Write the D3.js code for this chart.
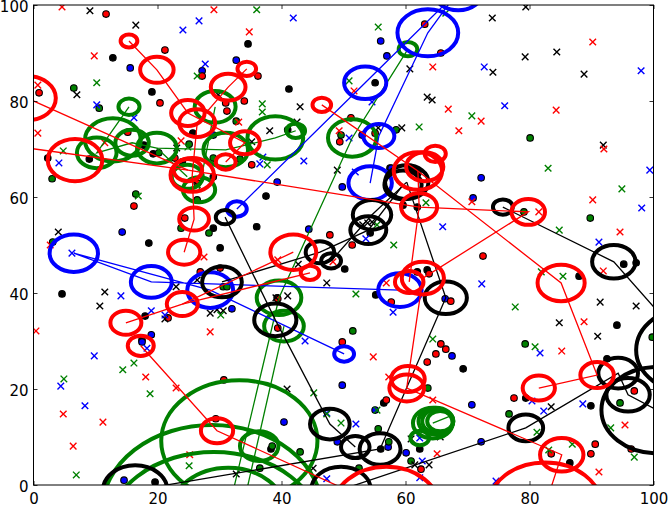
<!DOCTYPE html>
<html><head><meta charset="utf-8">
<style>html,body{margin:0;padding:0;background:#fff}svg{display:block}text{font-family:"DejaVu Sans";font-size:15px;fill:#000}</style>
<script src="https://cdnjs.cloudflare.com/ajax/libs/d3/7.8.5/d3.min.js"></script>
</head><body><div id="c"></div>
<script>
const tickValues=[0,20,40,60,80,100];
const dotsBlack=[[12.8,89],[19.1,81.9],[9,67.9],[2.3,68.1],[17.8,70.8],[19.3,69],[34.6,91.9],[41.2,82.5],[55.1,83.8],[41,74],[29,64.2],[29,53.5],[18.6,50.4],[30.1,49.4],[4.6,39.8],[18,35.2],[37.5,60.2],[36,53.8],[50.2,45],[63.5,44.8],[61.9,44.4],[55.2,39.6],[39.3,39],[95.2,46],[97.2,46.3],[94.1,33.3],[88,43.5],[19.6,.6],[62.3,7.5],[38.3,7.5],[56,7.5],[56.5,17.1],[69.3,24.2],[79.4,18.1],[89.9,16.5],[86.5,4.6],[92.5,26.3],[62,65],[59.6,58.3],[61.9,57.9],[57.5,66],[24,67.3],[25.7,73.3],[17.5,30.2],[54.3,52.5],[60.7,66.2],[61.4,65.6]];
const dotsBlue=[[15.6,86.9],[27.2,86.3],[29,72.9],[32.7,88.5],[56,92.5],[57,89.4],[53,72.9],[57.7,66],[14.3,52.7],[19,31.3],[39.3,63.1],[49.8,62.1],[44.4,53.3],[32,36.7],[66.4,38.8],[72.2,64],[70.9,59.8],[14.6,1],[17.5,29.8],[49.8,20.8],[40.4,13.1],[55.1,15.6],[49,9],[60.1,6.7],[57.2,7.9],[67.5,26.9],[70.7,16.7],[72.2,9]];
const dotsGreen=[[6.5,82.7],[10.6,78.5],[20.2,69.2],[25.1,71],[29,68.1],[32.7,75.8],[49.6,72.9],[58.5,74],[33.3,67.9],[80.1,72.3],[3,63.8],[16.5,60.6],[26.4,59.4],[23.8,53.5],[28.3,52.5],[3.1,50.6],[51.5,32.1],[30.6,41.3],[31.2,41.3],[79.1,56.9],[89.8,55.6],[63.6,20.2],[55.6,11.7],[43,6.9],[57.3,9],[38.5,8.1],[60.9,5],[36.5,3.5],[52.5,3.5],[79.3,29.4],[76.7,14.8],[94.6,17.1],[99.8,30.8]];
const dotsRed=[[11.7,98.1],[21.2,90.6],[27.2,85.2],[.9,81.7],[20.4,79.6],[31,79.6],[31.2,77.9],[15.2,73.5],[36.2,85.2],[34,80],[63.1,96],[65.7,90],[51.2,76.5],[49.4,71.5],[55.1,73.3],[35.2,66.7],[16.2,58.1],[24.4,55.6],[26.4,62.9],[30.1,45.2],[26.9,44.4],[21.7,34.8],[22.8,68.1],[47.8,52.1],[51.4,50],[39.4,38.8],[63.8,44],[39.4,32.7],[57.7,38.1],[72.5,47.7],[67.3,38.3],[30.7,21.9],[29.4,13.8],[49.8,29.8],[63.5,25.6],[64.9,27.3],[65.7,29.4],[66.5,28.3],[56.9,17.7],[62.5,3.3],[77.5,18.1],[96.9,19.6],[90.6,8.5],[89.9,6.5],[83.5,6.5],[96.4,7.5]];
const crossBlack=[[9.1,98.8],[16.5,95.8],[7,81.3],[29.8,81.3],[23.1,70.2],[60.7,86.7],[63.5,80.8],[64.3,80.2],[43,78.8],[38.1,73.8],[42.5,75.6],[59.4,74.4],[35.2,71.5],[49,65.6],[55.6,74.4],[74,97.3],[79.4,99.6],[79.3,89.2],[84.4,90.2],[74.1,86],[88.8,85.6],[91.9,70.8],[4,52.7],[11.5,40.2],[10.7,37.3],[23,41.3],[26.4,42.7],[28.5,35.8],[29.6,36.5],[30.6,36.3],[21.2,34.6],[41,39.4],[47.3,42.1],[39.1,39],[42.7,46],[91.4,38.1],[97.2,37.3],[84.8,33.8],[91,31],[40.9,20],[45.1,3.5],[32.7,2.3],[60.9,9.6],[61.5,4.2],[63.8,4.2],[65.6,10],[83.5,16.3],[53.1,54.2],[53.9,54.6],[54.6,54.8],[26.4,62.5]];
const crossRed=[[4.6,99.6],[9.8,89.4],[.7,83.3],[.7,73.3],[11.5,71.3],[29.1,99],[23.8,71.7],[34.8,94.4],[64.4,87.1],[51.7,82.1],[66.9,78.3],[33.1,75.6],[49.3,73.8],[90.2,92.3],[68.6,73.8],[72.2,75.8],[84.3,78.1],[92,70],[2.7,50],[.4,32.1],[27.5,47.5],[28.5,31.9],[56.9,42.1],[48.3,46.5],[39.4,46.9],[90.2,59.4],[70.7,59],[81.5,56.9],[94.6,52.7],[91.9,44.6],[88.8,34],[4.8,14.8],[11.2,13.1],[6.4,8.1],[18.1,22.5],[23,20.2],[25.2,6.3],[54.8,26.7],[57.3,22.5],[64.4,17.7],[65.1,6.5],[85.2,27.9],[95.4,12.5],[91.2,2.7]];
const crossBlue=[[26.7,96.7],[24.1,94.8],[27.7,87.7],[10.2,79.2],[16.2,76.5],[4.1,67.1],[41.9,97.3],[43.6,67.5],[50.9,72.3],[54.6,79.8],[36.5,66.9],[37,68.3],[72.7,87.1],[98,86.3],[76,79],[99.4,65.6],[6.2,48.3],[14.1,39.4],[19,36.3],[21.2,35.4],[66,53.8],[58,36],[53.6,51.3],[51.9,65.2],[98.1,57.7],[91.2,50.6],[72.3,41.9],[9.8,26.9],[4.4,20.6],[8.3,16.5],[18.3,28.5],[43.8,30],[52,12.7],[47.3,1.3],[47.3,15],[62.7,5],[62.3,1.5],[62.3,9.8],[81.7,27.5],[80.4,17.5],[82.3,15.4],[88.6,16.9],[74.6,.8]];
const crossGreen=[[10.2,83.8],[26.4,85.2],[4.8,69.6],[24.9,70.4],[36,99],[55.6,95.4],[66.5,98.3],[36.9,79.4],[36.9,77.7],[62.2,74.6],[50.9,84.2],[37.7,66.7],[70.7,76.9],[83,66],[16.9,60.2],[30.2,35.4],[52,39.8],[58.1,50],[55.4,54.2],[63.3,58.8],[94.9,61.7],[84.8,53.1],[77.7,37.1],[85.4,43.5],[81.9,44.4],[4.9,22.1],[16.2,25.4],[14.4,24],[18.8,19],[6.9,2.1],[25.1,4],[64.4,30.4],[45.2,19.2],[47.3,14.8],[49.6,12.9],[55.4,15.6],[80.9,28.8],[81.2,11],[83.1,7.3],[86.9,8.5],[93.1,11.9],[96.9,5.8]];
const ringsGreen=[[15.4,78.8,1.7],[12.8,71.9,4.5],[10.2,69.2,3.2],[15.9,71.3,2.7],[19.9,70.2,3.2],[29.3,78.8,3.3],[31,69.8,3.6],[39,72.3,4.5],[42.3,73.8,1.5],[51.4,72.3,3.9],[60.4,90.8,1.5],[26.7,61.5,2.6],[24.8,64.2,2.5],[39.6,39,3.6],[40.4,33.1,3.2],[36.4,8.1,3.1],[33.2,9.2,12.6],[28.8,-5.2,17.7],[29.1,-10.6,17.5],[31.4,-5.6,9.2],[64.4,12.9,3.2],[64.9,13.3,2.8],[65.2,13.3,2.5],[65.6,13.3,2.1],[62.3,9.8,1.5]];
const ringsBlue=[[63.6,94.2,4.9],[53.5,83.8,3.4],[55.7,72.7,2.5],[68.5,102.9,4],[54.3,62.9,3.5],[32.8,57.5,1.6],[28.5,40.6,3.7],[19,42.3,3.3],[6.5,48.3,3.9],[59.1,40.6,3.5],[50.1,27.3,1.6]];
const ringsBlack=[[54.6,56.3,3.1],[54,53.1,2.9],[46.2,48.5,2.3],[48,46.7,1.6],[30.9,55.8,1.5],[30.4,42.3,3.2],[39,34.4,3.4],[60.2,63.1,3.5],[59.6,62.5,3],[66.5,39,3.4],[75.7,57.9,1.6],[93.6,46.5,3.5],[106.2,28.1,9],[100.6,15.6,9],[95.9,18.8,3.5],[94.3,23.3,3.2],[79.4,11.9,2.8],[47.8,12.7,3.2],[51.9,7.9,2.3],[55.9,7.5,3.3],[49.6,-1,4.8],[16.4,-1.1,5.2]];
const ringsRed=[[15.4,92.5,1.35],[19.9,86.5,2.7],[24.9,77.5,2.7],[26.4,75.4,2.9],[31.4,82.9,2.8],[34.4,86.7,1.5],[46.5,79.2,1.5],[34.1,71.3,2.4],[31,67.3,1.6],[6.7,67.7,4.4],[-1,80.6,4.6],[25.6,64.6,3.5],[24.9,65.6,2.3],[25.9,55.4,2.4],[24.3,48.5,2.6],[24,37.7,2.5],[14.9,33.8,2.5],[17.3,29,2.1],[29.6,11.3,2.6],[41.9,48.5,3.7],[44.6,44.2,1.5],[62.8,43.1,3.4],[60.6,42.3,2.3],[62.2,57.9,2.9],[64.8,69,1.7],[62,65.4,3.9],[63.1,66.3,3],[79.8,56.9,2.7],[85.1,42.1,3.8],[85.2,6.3,3.5],[90.9,22.9,2.7],[81.5,20.2,2.6],[82.5,-4.4,9.1],[56.9,-4.8,8.6],[60.2,20.2,2.8],[60.4,22.1,2.7]];
const pathsGreen=[[[15.4,78.8],[10.2,69.2],[15.9,71.3],[19.9,70.2],[31,69.8],[39,72.3],[42.3,73.8]],[[60.4,90.8],[51.4,72.3],[39.6,39],[31.4,-5.6]],[[40.4,33.1],[33.6,-5.6]],[[29.3,78.8],[26.7,61.5]],[[19.9,70.2],[24.8,64.2]],[[64.4,12.9],[67.5,14.5]]];
const pathsBlue=[[[32.8,57.5],[53.5,83.8],[68.5,102.9],[63.6,94.2],[55.7,72.7],[54.3,62.9]],[[50.1,27.3],[28.5,40.6],[6.5,48.3],[19,42.3],[59.1,40.6]]];
const pathsBlack=[[[30.9,55.8],[39,34.4],[47.8,12.7],[51.9,7.9]],[[16.4,-1.1],[55.9,7.5],[66.5,39],[60.2,63.1]],[[49.6,-1],[79.4,11.9],[94.3,23.3],[95.9,18.8],[100.6,15.6]],[[75.7,57.9],[93.6,46.5],[106.2,28.1]],[[30.4,42.3],[46.2,48.5],[54,53.1],[59.6,62.5]],[[48,46.7],[54.6,56.3],[60.2,63.1]]];
const pathsRed=[[[15.4,92.5],[19.9,86.5],[24.9,77.5],[34.1,71.3],[31,67.3]],[[34.4,86.7],[31.4,82.9],[26.4,75.4],[25.6,64.6],[25.9,55.4],[24.3,48.5]],[[-1,80.6],[24.9,65.6]],[[-2,70.4],[24.9,65.6],[62.2,57.9],[79.8,56.9],[62.8,43.1],[60.4,22.1],[60.2,20.2],[85.2,6.3],[82.5,-4.4]],[[46.5,79.2],[62,65.4],[85.1,42.1],[90.9,22.9],[81.5,20.2]],[[14.9,33.8],[24,37.7],[41.9,48.5]],[[24,37.7],[44.6,44.2]],[[17.3,29],[29.6,11.3],[56.9,-4.8]],[[62,65.4],[62.2,57.9],[60.6,42.3]]];

const W=668,H=505;
const x=d3.scaleLinear().domain([0,100]).range([33.5,653.5]);
const y=d3.scaleLinear().domain([0,100]).range([485,5]);
const svg=d3.select("#c").append("svg").attr("width",W).attr("height",H);
svg.append("clipPath").attr("id","ax").append("rect").attr("x",x(0)).attr("y",y(100)).attr("width",x(100)-x(0)).attr("height",y(0)-y(100));
const g=svg.append("g").attr("clip-path","url(#ax)");
const BLUE="#0000ff",GREEN="#008000",RED="#ff0000",BLACK="#000000";

[[dotsBlack,BLACK],[dotsBlue,BLUE],[dotsGreen,GREEN],[dotsRed,RED]].forEach(([d,c])=>{
  g.append("g").selectAll("circle").data(d).join("circle")
   .attr("cx",p=>x(p[0])).attr("cy",p=>y(p[1])).attr("r",3.3).attr("fill",c).attr("stroke","#000").attr("stroke-width",1.1);
});
const cr=d3.symbol().type(d3.symbolTimes).size(30);
[[crossBlack,BLACK],[crossBlue,BLUE],[crossGreen,GREEN],[crossRed,RED]].forEach(([d,c])=>{
  g.append("g").selectAll("path").data(d).join("path")
   .attr("d",cr).attr("transform",p=>`translate(${x(p[0])},${y(p[1])})`).attr("fill","none").attr("stroke",c).attr("stroke-width",1.4);
});
const line=d3.line().x(p=>x(p[0])).y(p=>y(p[1]));
[[ringsGreen,pathsGreen,GREEN],[ringsBlue,pathsBlue,BLUE],[ringsBlack,pathsBlack,BLACK],[ringsRed,pathsRed,RED]].forEach(([rs,ps,c])=>{
  const l=g.append("g");
  l.selectAll("path").data(ps).join("path").attr("d",line).attr("fill","none").attr("stroke",c).attr("stroke-width",1.3);
  l.selectAll("ellipse").data(rs).join("ellipse")
   .attr("cx",p=>x(p[0])).attr("cy",p=>y(p[1]))
   .attr("rx",p=>x(p[2])-x(0)).attr("ry",p=>y(0)-y(p[2]))
   .attr("fill","none").attr("stroke",c).attr("stroke-width",4);
});
const style=(s,label)=>{s.select(".domain").remove();s.selectAll("line").attr("stroke","#000").attr("stroke-width",.8);s.selectAll("text").style("font-family","DejaVu Sans").style("font-size","15px").attr("fill","#000");if(!label)s.selectAll("text").remove();};
svg.append("g").attr("transform",`translate(0,${y(0)})`).call(d3.axisBottom(x).tickValues(tickValues).tickSize(-4).tickPadding(8).tickFormat(d3.format("d"))).call(style,true);
svg.append("g").attr("transform",`translate(0,${y(100)})`).call(d3.axisTop(x).tickValues(tickValues).tickSize(-4)).call(style,false);
svg.append("g").attr("transform",`translate(${x(0)},0)`).call(d3.axisLeft(y).tickValues(tickValues).tickSize(-4).tickPadding(5).tickFormat(d3.format("d"))).call(style,true).call(s=>s.selectAll("text").attr("dy","0.45em"));
svg.append("g").attr("transform",`translate(${x(100)},0)`).call(d3.axisRight(y).tickValues(tickValues).tickSize(-4)).call(style,false);
svg.append("rect").attr("x",x(0)).attr("y",y(100)).attr("width",x(100)-x(0)).attr("height",y(0)-y(100)).attr("fill","none").attr("stroke","#000").attr("stroke-width",1);
</script></body></html>
